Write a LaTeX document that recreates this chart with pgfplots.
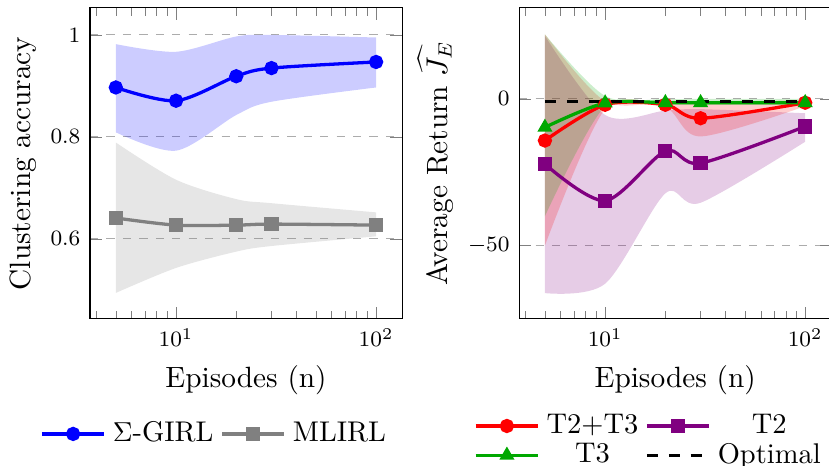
\documentclass[border=0pt]{standalone}
\usepackage{pgfplots}
\pgfplotsset{compat=1.18}
\usepgfplotslibrary{fillbetween}
\definecolor{mygreen}{rgb}{0,0.66,0}
\begin{document}
\begin{tikzpicture}
\begin{axis}[at={(0pt,0pt)}, anchor=south west,
  scale only axis, width=113.9pt, height=113.5pt,
  xmode=log, xmin=3.715, xmax=134.9,
  ymajorgrids, grid style={dashed, gray!65},
  tick label style={font=\fontsize{8.5}{10}\selectfont},
  label style={font=\fontsize{10.7}{13}\selectfont},
  legend style={draw=none, fill=none, font=\fontsize{10.4}{12}\selectfont, nodes={inner xsep=2.5pt, inner ysep=1pt}, anchor=center, at={(0.4054,-0.3698)}},
  legend image code/.code={\draw[mark repeat=2,mark phase=2] plot coordinates {(0cm,0cm)(0.4cm,0cm)(0.8cm,0cm)};},
  xlabel={Episodes (n)},
  xlabel style={at={(axis description cs:0.5,-0.222)}, anchor=base},
  ymin=0.443, ymax=1.053, ytick={0.6,0.8,1},
  ylabel={Clustering accuracy},
  ylabel style={at={(axis description cs:-0.191,0.5)}, anchor=base},
  legend columns=2]
\addplot[name path=bu, draw=none, smooth, forget plot] coordinates {(5,0.982)(10,0.967)(20,0.997)(30,1.0)(100,0.995)};
\addplot[name path=bl, draw=none, smooth, forget plot] coordinates {(5,0.809)(10,0.773)(20,0.843)(30,0.869)(100,0.897)};
\addplot[fill=blue, fill opacity=0.2, draw=none, forget plot] fill between[of=bu and bl];
\addplot[name path=gu, draw=none, smooth, forget plot] coordinates {(5,0.789)(10,0.716)(20,0.678)(30,0.670)(100,0.652)};
\addplot[name path=gl, draw=none, smooth, forget plot] coordinates {(5,0.494)(10,0.543)(20,0.575)(30,0.586)(100,0.605)};
\addplot[fill=gray, fill opacity=0.2, draw=none, forget plot] fill between[of=gu and gl];
\addplot[blue, very thick, mark=*, smooth] coordinates {(5,0.897)(10,0.871)(20,0.919)(30,0.935)(100,0.947)};
\addlegendentry{$\Sigma$-GIRL}
\addplot[gray, very thick, mark=square*, smooth] coordinates {(5,0.641)(10,0.627)(20,0.627)(30,0.629)(100,0.627)};
\addlegendentry{MLIRL}
\end{axis}
\begin{axis}[at={(156.6pt,0pt)}, anchor=south west,
  scale only axis, width=113.9pt, height=113.5pt,
  xmode=log, xmin=3.715, xmax=134.9,
  ymajorgrids, grid style={dashed, gray!65},
  tick label style={font=\fontsize{8.5}{10}\selectfont},
  label style={font=\fontsize{10.7}{13}\selectfont},
  legend style={draw=none, fill=none, font=\fontsize{10.4}{12}\selectfont, nodes={inner xsep=2.5pt, inner ysep=1pt}, anchor=center, at={(0.422,-0.392)}},
  legend image code/.code={\draw[mark repeat=2,mark phase=2] plot coordinates {(0cm,0cm)(0.4cm,0cm)(0.8cm,0cm)};},
  xlabel={Episodes (n)},
  xlabel style={at={(axis description cs:0.5,-0.222)}, anchor=base},
  ymin=-75, ymax=31, ytick={-50,0},
  ylabel={Average Return $\widehat{J_E}$},
  ylabel style={at={(axis description cs:-0.231,0.5)}, anchor=base},
  legend columns=2, legend cell align=center]
\addplot[name path=pu, draw=none, smooth, forget plot] coordinates {(5,21.5)(10,-5.5)(20,-4)(30,-3.5)(100,-4.9)};
\addplot[name path=pl, draw=none, smooth, forget plot] coordinates {(5,-66.2)(10,-63)(20,-32.2)(30,-35.4)(100,-14.6)};
\addplot[fill=violet, fill opacity=0.2, draw=none, forget plot] fill between[of=pu and pl];
\addplot[name path=ru, draw=none, smooth, forget plot] coordinates {(5,22)(10,-0.8)(20,-1)(30,-1)(100,-0.5)};
\addplot[name path=rl, draw=none, smooth, forget plot] coordinates {(5,-50)(10,-3.5)(20,-3)(30,-12.8)(100,-2.5)};
\addplot[fill=red, fill opacity=0.2, draw=none, forget plot] fill between[of=ru and rl];
\addplot[name path=eu, draw=none, smooth, forget plot] coordinates {(5,22)(10,1)(20,0)(30,0)(100,0)};
\addplot[name path=el, draw=none, smooth, forget plot] coordinates {(5,-40)(10,-2.5)(20,-2)(30,-2)(100,-2)};
\addplot[fill=mygreen, fill opacity=0.2, draw=none, forget plot] fill between[of=eu and el];
\addplot[red, very thick, mark=*, smooth] coordinates {(5,-14.2)(10,-2.0)(20,-2.0)(30,-6.6)(100,-1.3)};
\addlegendentry{T2+T3}
\addplot[violet, very thick, mark=square*, smooth] coordinates {(5,-22.2)(10,-34.7)(20,-17.8)(30,-21.9)(100,-9.4)};
\addlegendentry{T2}
\addplot[mygreen, very thick, mark=triangle*, smooth] coordinates {(5,-9.7)(10,-1.4)(20,-1.3)(30,-1.3)(100,-1.3)};
\addlegendentry{T3}
\addplot[black, very thick, dash pattern=on 4pt off 4pt] coordinates {(5,-1)(100,-1)};
\addlegendentry{Optimal}
\end{axis}
\pgfresetboundingbox
\useasboundingbox (-32.85pt,-53.65pt) rectangle (269.7pt,116.4pt);
\end{tikzpicture}
\end{document}
